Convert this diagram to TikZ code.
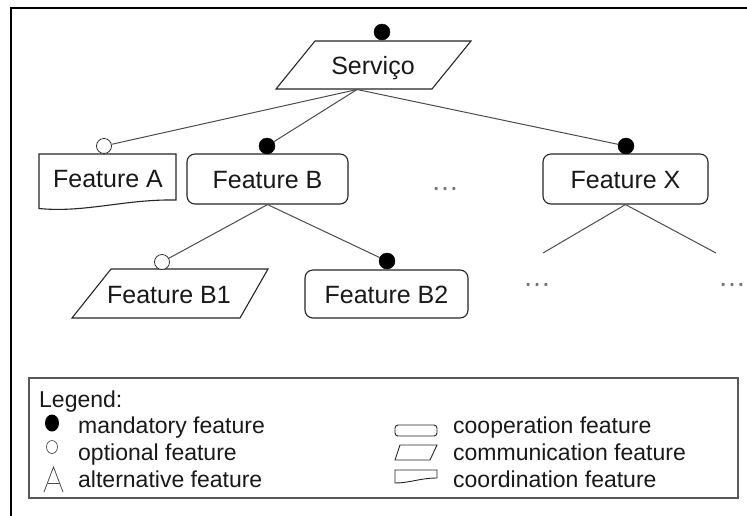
\documentclass[tikz,border=0pt]{standalone}
\usepackage{fontspec}
\setmainfont{Liberation Sans}
\begin{document}
\begin{tikzpicture}[x=1pt,y=-1pt,
  shp/.style={draw=black!85, line width=1.1pt},
  conn/.style={draw=black!70, line width=1pt},
  mand/.style={circle, fill=black, draw=black, inner sep=0pt, minimum size=16pt},
  opt/.style={circle, fill=white, draw=black!80, line width=0.8pt, inner sep=0pt, minimum size=15pt},
  lbl/.style={font=\fontsize{25}{30}\selectfont, text=black!90, inner sep=0pt},
  coop/.style={shp, rounded corners=8pt, minimum height=50pt, inner sep=0pt,
    text height=18pt, text depth=0pt, font=\fontsize{25}{30}\selectfont, text=black!90},
  leg/.style={font=\fontsize{23}{28}\selectfont, inner sep=0pt, anchor=base west, text=black!90},
  dotsx/.style={font=\fontsize{28}{30}\selectfont, text=black!55, inner sep=0pt, anchor=base}
]
\path[use as bounding box] (0,0) rectangle (747,515);
\fill[white] (0,0) rectangle (747,515);
\clip (0,0) rectangle (747,515);
% outer frame
\draw[line width=2pt] (11,8) rectangle (800,600);

% Servico (communication)
\draw[shp] (315,41) -- (471,41) -- (432,89) -- (276,89) -- cycle;
\node[lbl, anchor=base] (serv) at (373,74) {Serviço};
\node[mand] (dS) at (382,32) {};
\coordinate (servS) at (357,89.5);

% Feature A (coordination)
\draw[shp] (39,154) -- (176,154) -- (176,200) .. controls (125,199) and (85,213) .. (39,208.5) -- cycle;
\node[lbl, anchor=base] (fa) at (108,187) {Feature A};
\node[opt] (oA) at (104,146) {};

% Feature B (cooperation)
\node[coop, minimum width=161pt] (fb) at (267.5,179) {Feature B};
\node[mand] (dB) at (267,146) {};

% Feature X (cooperation)
\node[coop, minimum width=165pt] (fx) at (625.5,179) {Feature X};
\node[mand] (dX) at (626,146) {};

% dots
\node[dotsx] (dots1) at (445,190) {…};
\node[dotsx] (dots2) at (537,286) {…};
\node[dotsx] (dots3) at (732,286) {…};

% Feature B1 (communication)
\draw[shp] (111,269) -- (268,269) -- (240,318) -- (72,318) -- cycle;
\node[lbl, anchor=base] (fb1) at (169,303) {Feature B1};
\node[opt] (oB1) at (162,262) {};

% Feature B2 (cooperation)
\node[coop, minimum width=163pt, minimum height=48pt] (fb2) at (386.5,294) {Feature B2};
\node[mand] (dB2) at (387,261) {};

% connectors
\coordinate (xl) at (543,253);
\coordinate (xr) at (716,253);
\draw[conn] (servS) -- (oA);
\draw[conn] (servS) -- (dB);
\draw[conn] (servS) -- (dX);
\draw[conn] (fb.south) -- (oB1);
\draw[conn] (fb.south) -- (dB2);
\draw[conn] (fx.south) -- (xl);
\draw[conn] (fx.south) -- (xr);

% legend
\draw[draw=black!65, line width=1.2pt] (29,378) rectangle (738,498);
\node[leg] (lgt) at (39,407) {Legend:};
\fill[black] (52,423) ellipse [x radius=7pt, y radius=8.5pt];
\node[leg] (l1) at (78,433) {mandatory feature};
\draw[black!70, line width=0.7pt] (52,447) ellipse [x radius=5.5pt, y radius=6.5pt];
\node[leg] (l2) at (78,460) {optional feature};
\draw[black!70, line width=0.8pt] (44,492) -- (53.5,467) -- (63,492);
\draw[black!70, line width=0.8pt] (47.5,483) -- (59.5,483);
\node[leg] (l3) at (78,487) {alternative feature};

\draw[shp, line width=0.9pt, rounded corners=3pt] (395,425) rectangle (437,436);
\node[leg] (r1) at (453,433) {cooperation feature};
\draw[shp, line width=0.9pt] (400,445) -- (437,445) -- (430,460) -- (395,460) -- cycle;
\node[leg] (r2) at (453,460) {communication feature};
\draw[shp, line width=0.9pt] (395,470) -- (437,470) -- (437,478) .. controls (420,478) and (410,483) .. (395,483) -- cycle;
\node[leg] (r3) at (453,487) {coordination feature};
\end{tikzpicture}
\end{document}
